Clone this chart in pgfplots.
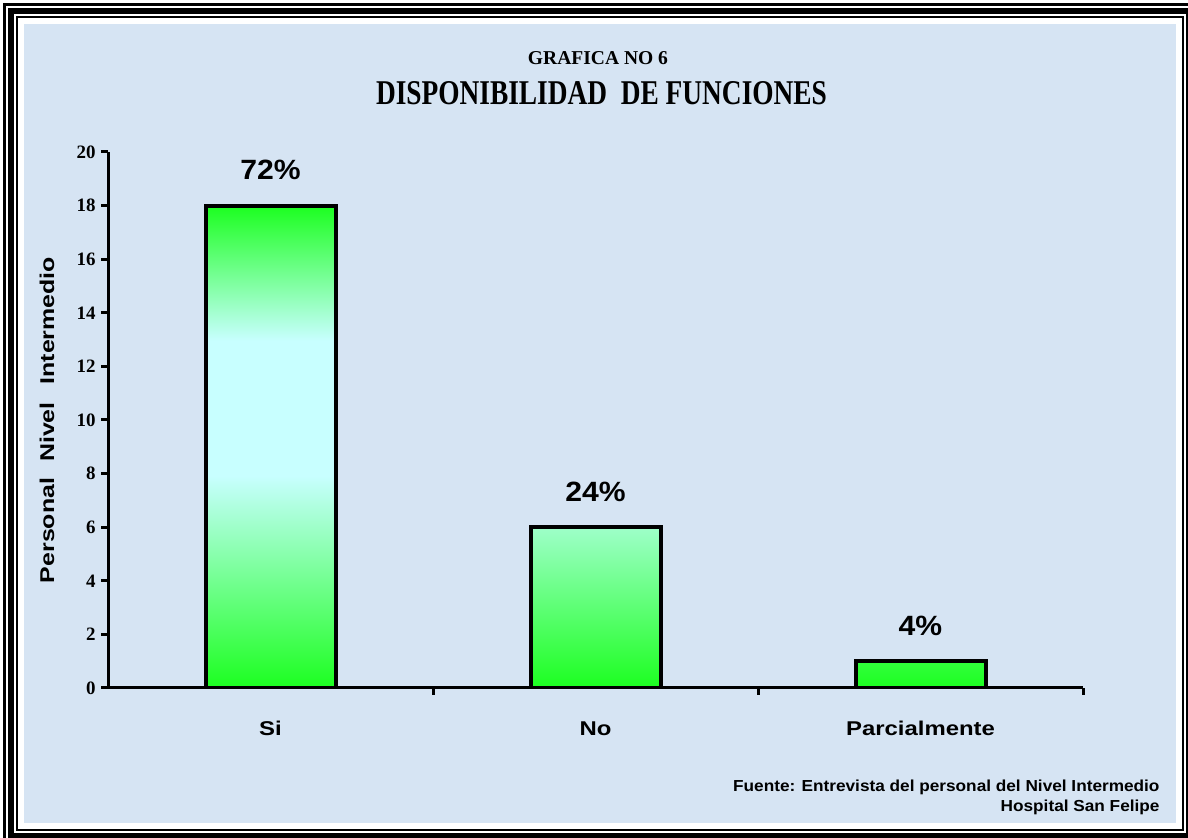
\documentclass[border=0pt]{standalone}
\usepackage{fontspec}
\setmainfont{Liberation Sans}
\newfontfamily\timesfont{Liberation Serif}
\usepackage{graphicx}
\usepackage{pgfplots}
\pgfplotsset{compat=1.18}

\definecolor{bgblue}{RGB}{214,228,243}
\definecolor{bargreen}{RGB}{28,255,32}
\definecolor{barcyan}{RGB}{200,255,255}

% green - pale cyan - green fill used for every bar
% (the bar itself covers the 25bp..75bp band of the shading)
\pgfdeclareverticalshading{barshade}{100bp}{
  color(0bp)=(bargreen); color(25bp)=(bargreen); color(47bp)=(barcyan);
  color(61bp)=(barcyan); color(75bp)=(bargreen); color(100bp)=(bargreen)}

\begin{document}
\begin{tikzpicture}
\useasboundingbox (0bp,0bp) rectangle (1188bp,838bp);
% page, background and triple frame
\begin{scope}
\clip (0bp,0bp) rectangle (1188bp,838bp);
\fill[white] (0bp,0bp) rectangle (1188bp,838bp);
\fill[bgblue] (24bp,15bp) rectangle (1176bp,814bp);
\draw[line width=2bp] (17bp,8bp) rectangle (1183bp,821bp);
\draw[line width=6bp] (11bp,2bp) rectangle (1189bp,827bp);
\draw[line width=3bp] (4.5bp,-4.5bp) rectangle (1195.5bp,833.5bp);
\end{scope}

% titles
\node[anchor=center] at (598bp,779.5bp)
  {\resizebox{140bp}{13bp}{\timesfont\bfseries GRAFICA NO 6}};
\node[anchor=center] at (601.5bp,744.5bp)
  {\resizebox{451bp}{23bp}{\timesfont\bfseries DISPONIBILIDAD\ \ DE FUNCIONES}};

\begin{axis}[
  at={(108bp,150bp)}, anchor=south west,
  scale only axis, width=975bp, height=536bp,
  xmin=-0.5, xmax=2.5, ymin=0, ymax=20,
  axis x line*=bottom, axis y line*=left,
  axis line style={line width=3bp},
  ytick={0,2,...,20},
  xtick={0.5,1.5,2.5},
  xticklabels={\scalebox{1.2}[1]{Si},\scalebox{1.2}[1]{No},\scalebox{1.2}[1]{Parcialmente}},
  tick align=outside,
  major tick length=7bp,
  tick style={line width=3bp, black},
  /pgf/number format/assume math mode=true,
  y tick label style={font=\timesfont\bfseries\fontsize{19}{19}\selectfont, xshift=-2bp},
  x tick label style={font=\bfseries\fontsize{20}{20}\selectfont, xshift=-162.5bp, yshift=-23bp},
  ylabel={\scalebox{1.25}[1]{Personal}\hspace{16bp}\scalebox{1.25}[1]{Nivel}\hspace{18bp}\scalebox{1.25}[1]{Intermedio}},
  every axis y label/.style={at={(axis description cs:0,0.5)}, xshift=-61bp,
     rotate=90, anchor=center, font=\bfseries\fontsize{20}{20}\selectfont},
]
\addplot[ybar, bar width=130bp, draw=black, line width=4bp,
  /tikz/shade, /tikz/shading=barshade,
  point meta=explicit symbolic, nodes near coords,
  every node near coord/.append style={anchor=base, yshift=26bp,
     font=\bfseries\fontsize{28}{28}\selectfont, xscale=1.08}]
  coordinates {(0,18) [72\%] (1,6) [24\%] (2,1) [4\%]};
\end{axis}

% source note
\node[anchor=base east, font=\bfseries\fontsize{16}{16}\selectfont] at (1163bp,46bp)
  {\scalebox{1.08}[1]{Fuente: Entrevista del personal del Nivel Intermedio}};
\node[anchor=base east, font=\bfseries\fontsize{16}{16}\selectfont] at (1163bp,27bp)
  {\scalebox{1.08}[1]{Hospital San Felipe}};
\end{tikzpicture}
\end{document}
